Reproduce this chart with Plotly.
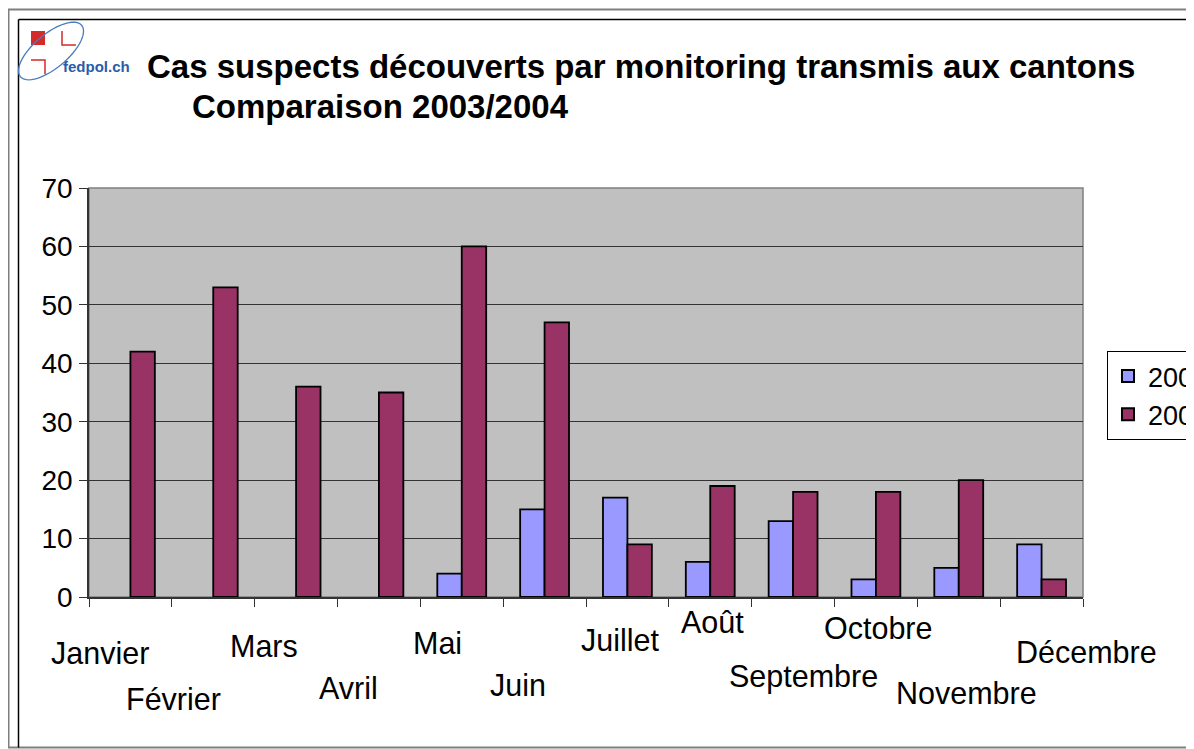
import numpy as np
import plotly.graph_objects as go

months = ["Janvier", "Février", "Mars", "Avril", "Mai", "Juin", "Juillet",
          "Août", "Septembre", "Octobre", "Novembre", "Décembre"]
cases_2003 = [None, None, None, None, 4, 15, 17, 6, 13, 3, 5, 9]
cases_2004 = [42, 53, 36, 35, 60, 47, 9, 19, 18, 18, 20, 3]
y_ticks = [0, 10, 20, 30, 40, 50, 60, 70]

title_line1 = "Cas suspects découverts par monitoring transmis aux cantons"
title_line2 = "Comparaison 2003/2004"

# label placement offsets (style only)
label_xshift = [-30, -40, -32, -30, -24, -27, -7, 2, 10, 3, 8, 45]
label_yshift = [-56, -102, -49, -91, -46, -88, -43, -25, -79, -31, -96, -55]

OFF = 8  # page body margin
W, H = 1194 - OFF, 749 - OFF
L, R, T, B = 89 - OFF, 111, 188 - OFF, 152
PW, PH = W - L - R, H - T - B


def px(x):
    return (x - OFF - L) / PW


def py(y):
    return (H - B - (y - OFF)) / PH


FONT = "Liberation Sans, Arial, sans-serif"

fig = go.Figure()
fig.add_trace(go.Bar(x=months, y=cases_2003, name="2003",
                     marker=dict(color="#9999FF", line=dict(color="black", width=1.8))))
fig.add_trace(go.Bar(x=months, y=cases_2004, name="2004",
                     marker=dict(color="#993366", line=dict(color="black", width=1.8))))

annotations = []
for m, xs, ys in zip(months, label_xshift, label_yshift):
    annotations.append(dict(x=m, xref="x", y=0, yref="paper", text=m, showarrow=False,
                            xanchor="center", yanchor="middle", xshift=xs, yshift=ys,
                            font=dict(family=FONT, size=30.5, color="black")))
annotations.append(dict(x=px(145), y=py(66), xref="paper", yref="paper", text="<b>%s</b>" % title_line1,
                        showarrow=False, xanchor="left", yanchor="middle",
                        font=dict(family=FONT, size=33, color="black")))
annotations.append(dict(x=px(190), y=py(106), xref="paper", yref="paper", text="<b>%s</b>" % title_line2,
                        showarrow=False, xanchor="left", yanchor="middle",
                        font=dict(family=FONT, size=33, color="black")))
annotations.append(dict(x=px(61), y=py(66), xref="paper", yref="paper", text="<b>fedpol.ch</b>",
                        showarrow=False, xanchor="left", yanchor="middle",
                        font=dict(family=FONT, size=15, color="#2a5caa")))

shapes = []
# outer gray frame and inner black frame
shapes.append(dict(type="rect", xref="paper", yref="paper", x0=px(8.5), y0=py(9.5), x1=px(1210), y1=py(747.5),
                   line=dict(color="#7f7f7f", width=2), fillcolor="rgba(0,0,0,0)"))
shapes.append(dict(type="line", xref="paper", yref="paper", x0=px(18.5), y0=py(19.5), x1=px(18.5), y1=py(747.5),
                   line=dict(color="black", width=1.5)))
shapes.append(dict(type="line", xref="paper", yref="paper", x0=px(18.5), y0=py(19.5), x1=px(1210), y1=py(19.5),
                   line=dict(color="black", width=1.5)))
# plot area gray frame
shapes.append(dict(type="rect", xref="paper", yref="paper", x0=0, y0=0, x1=1, y1=1,
                   line=dict(color="#808080", width=1.5), fillcolor="rgba(0,0,0,0)", layer="below"))
# logo
shapes.append(dict(type="rect", xref="paper", yref="paper", x0=px(31), y0=py(31), x1=px(45), y1=py(45),
                   line=dict(width=0), fillcolor="#d42a2a"))
shapes.append(dict(type="path", xref="paper", yref="paper",
                   path="M %f,%f L %f,%f L %f,%f" % (px(62), py(31), px(62), py(45), px(76), py(45)),
                   line=dict(color="#d42a2a", width=1.5)))
shapes.append(dict(type="path", xref="paper", yref="paper",
                   path="M %f,%f L %f,%f L %f,%f" % (px(31), py(60), px(45), py(60), px(45), py(74)),
                   line=dict(color="#d42a2a", width=1.5)))
t = np.linspace(0, 2 * np.pi, 60)
cx, cy, a, b, ang = 51, 51, 40, 17, np.deg2rad(-40)
ex = cx + a * np.cos(t) * np.cos(ang) - b * np.sin(t) * np.sin(ang)
ey = cy + a * np.cos(t) * np.sin(ang) + b * np.sin(t) * np.cos(ang)
path = "M " + " L ".join("%f,%f" % (px(u), py(v)) for u, v in zip(ex, ey)) + " Z"
shapes.append(dict(type="path", xref="paper", yref="paper", path=path,
                   line=dict(color="#4a7cc0", width=1.3)))

fig.update_layout(
    width=W, height=H,
    margin=dict(l=L, r=R, t=T, b=B, autoexpand=False),
    paper_bgcolor="white", plot_bgcolor="#C0C0C0",
    barmode="group", bargap=0.41, bargroupgap=0,
    font=dict(family=FONT, size=28, color="black"),
    showlegend=True,
    legend=dict(x=px(1107), y=py(351), xanchor="left", yanchor="top",
                bgcolor="white", bordercolor="black", borderwidth=1,
                font=dict(family=FONT, size=27, color="black"),
                itemsizing="constant", tracegroupgap=0),
    annotations=annotations,
    shapes=shapes,
)
fig.update_xaxes(type="category", range=[-0.5, 11.5], autorange=False,
                 showticklabels=False, showgrid=False,
                 ticks="outside", tickson="boundaries", ticklen=8, tickcolor="#333",
                 showline=True, linecolor="#333", linewidth=1.5, zeroline=False)
fig.update_yaxes(range=[0, 70], tickvals=y_ticks, showgrid=True, gridcolor="#333", gridwidth=1,
                 ticks="outside", ticklen=8, tickcolor="#333", ticklabelstandoff=1,
                 showline=True, linecolor="#333", linewidth=1.5, zeroline=False,
                 tickfont=dict(family=FONT, size=28, color="black"))

fig.write_html("out.html")
